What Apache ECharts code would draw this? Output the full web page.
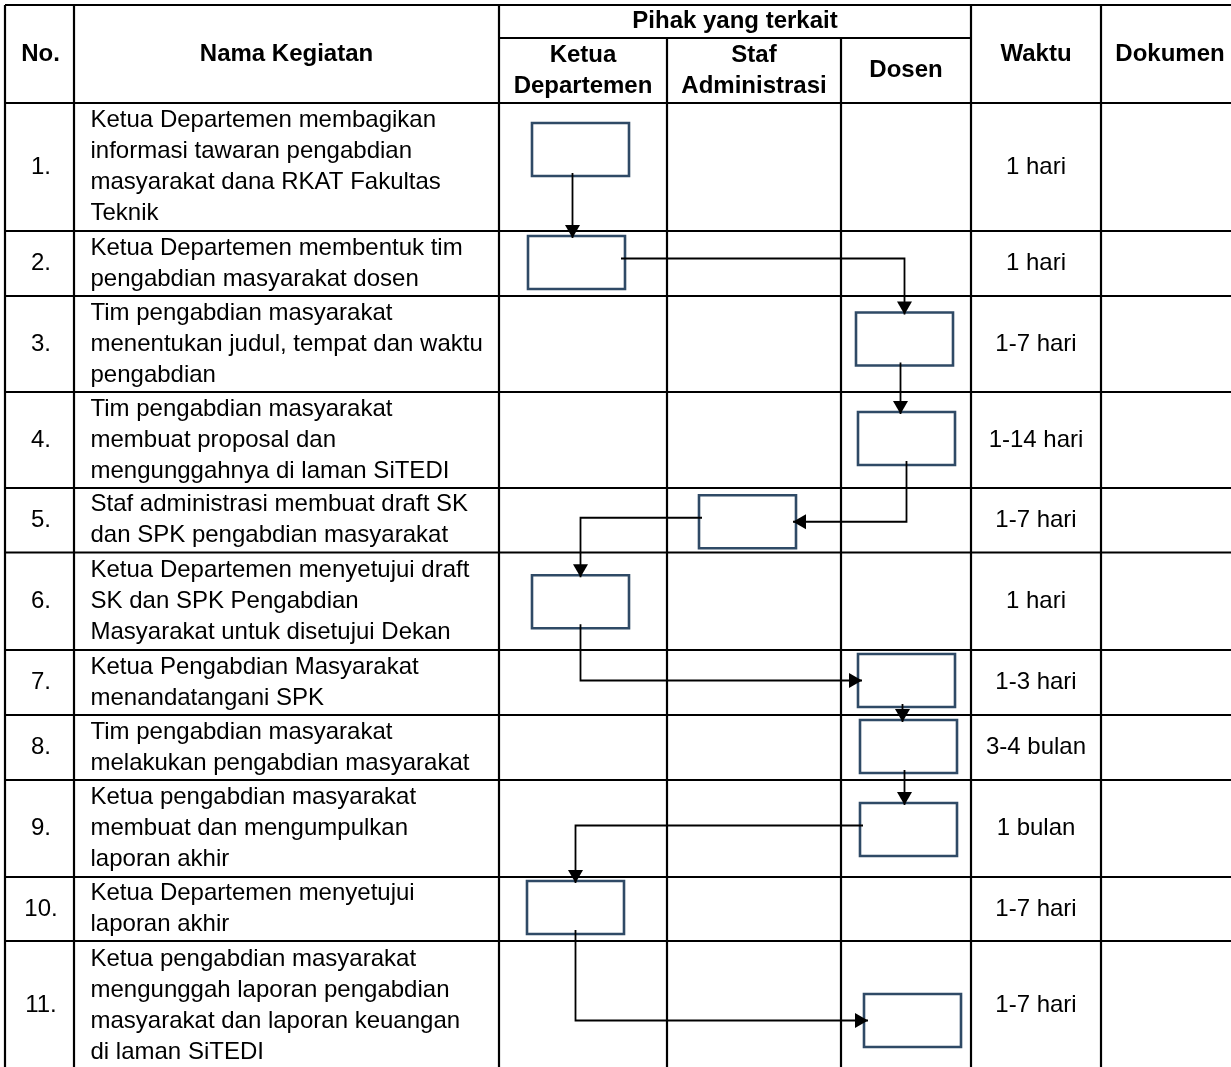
<!DOCTYPE html>
<html>
<head>
<meta charset="utf-8">
<script src="https://cdn.jsdelivr.net/npm/echarts@6/dist/echarts.min.js"></script>
<style>
  html, body { margin: 0; padding: 0; background: #fff; }
  #chart { width: 1231px; height: 1067px; }
</style>
</head>
<body>
<div id="chart"></div>
<script>
// ---------------- DATA ----------------
const HEADERS = ['No.', 'Nama Kegiatan', 'Pihak yang terkait', 'Waktu', 'Dokumen'];
const LANE_LABELS = ['Ketua\nDepartemen', 'Staf\nAdministrasi', 'Dosen'];
const STEP_NUMBERS = ['1.', '2.', '3.', '4.', '5.', '6.', '7.', '8.', '9.', '10.', '11.'];
const ACTIVITIES = [
  'Ketua Departemen membagikan\ninformasi tawaran pengabdian\nmasyarakat dana RKAT Fakultas\nTeknik',
  'Ketua Departemen membentuk tim\npengabdian masyarakat dosen',
  'Tim pengabdian masyarakat\nmenentukan judul, tempat dan waktu\npengabdian',
  'Tim pengabdian masyarakat\nmembuat proposal dan\nmengunggahnya di laman SiTEDI',
  'Staf administrasi membuat draft SK\ndan SPK pengabdian masyarakat',
  'Ketua Departemen menyetujui draft\nSK dan SPK Pengabdian\nMasyarakat untuk disetujui Dekan',
  'Ketua Pengabdian Masyarakat\nmenandatangani SPK',
  'Tim pengabdian masyarakat\nmelakukan pengabdian masyarakat',
  'Ketua pengabdian masyarakat\nmembuat dan mengumpulkan\nlaporan akhir',
  'Ketua Departemen menyetujui\nlaporan akhir',
  'Ketua pengabdian masyarakat\nmengunggah laporan pengabdian\nmasyarakat dan laporan keuangan\ndi laman SiTEDI'
];
const DURATIONS = ['1 hari', '1 hari', '1-7 hari', '1-14 hari', '1-7 hari', '1 hari', '1-3 hari', '3-4 bulan', '1 bulan', '1-7 hari', '1-7 hari'];
const DOCUMENTS = ['', '', '', '', '', '', '', '', '', '', ''];
// actor lane of each step: 0 = Ketua Departemen, 1 = Staf Administrasi, 2 = Dosen
const STEP_LANES = [0, 0, 2, 2, 1, 0, 2, 2, 2, 0, 2];
// how each step flows into the next: v = straight down, hv = across then down, vh = down then across
const FLOW_ROUTES = ['v', 'hv', 'v', 'vh', 'hv', 'vh', 'v', 'v', 'hv', 'vh'];

// ---------------- LAYOUT (positions / sizes / styles) ----------------
const LAYOUT = {
  width: 1231, height: 1067,
  cols: [5, 74, 499, 667, 841, 971, 1101, 1239],
  headTop: 5, headSplit: 38,
  rows: [103, 231, 296, 392, 488, 552.5, 650, 715, 780, 877, 941, 1070],
  box: { w: 97, h: 53 },
  boxNudge: [[-2.5, -17.5], [-6.5, -1], [-1.5, -5], [0.5, -1.5], [-6.5, 1.5], [-2.5, 0.5],
             [0.5, -2], [2.5, -1], [2.5, 1], [-7.5, -1.5], [6.5, 15]],
  textPadLeft: 16.5,
  lineHeight: 31
};
const FONT = '"Liberation Sans", Arial, sans-serif';
const FS = 24;

// ---------------- build geometry from data + layout ----------------
const C = LAYOUT.cols, R = LAYOUT.rows;
const bottom = R[R.length - 1];

// table lines
const tableSegs = [];
tableSegs.push([C[0], LAYOUT.headTop, C[7], LAYOUT.headTop]);
tableSegs.push([C[2], LAYOUT.headSplit, C[5], LAYOUT.headSplit]);
R.forEach(y => tableSegs.push([C[0], y, C[7], y]));
[0, 1, 2, 5, 6, 7].forEach(k => tableSegs.push([C[k], LAYOUT.headTop, C[k], bottom]));
[3, 4].forEach(k => tableSegs.push([C[k], LAYOUT.headSplit, C[k], bottom]));

// texts
const texts = [];
const midY0 = (LAYOUT.headTop + R[0]) / 2;
texts.push({ x: (C[0] + C[1]) / 2 + 1, y: midY0, t: HEADERS[0], b: true, a: 'center' });
texts.push({ x: (C[1] + C[2]) / 2, y: midY0, t: HEADERS[1], b: true, a: 'center' });
texts.push({ x: (C[2] + C[5]) / 2, y: (LAYOUT.headTop + LAYOUT.headSplit) / 2, t: HEADERS[2], b: true, a: 'center' });
texts.push({ x: (C[5] + C[6]) / 2, y: midY0, t: HEADERS[3], b: true, a: 'center' });
texts.push({ x: (C[6] + C[7]) / 2, y: midY0, t: HEADERS[4], b: true, a: 'center' });
LANE_LABELS.forEach((l, k) => texts.push({ x: (C[2 + k] + C[3 + k]) / 2, y: (LAYOUT.headSplit + R[0]) / 2, t: l, b: true, a: 'center' }));
ACTIVITIES.forEach((act, i) => {
  const cy = (R[i] + R[i + 1]) / 2;
  texts.push({ x: (C[0] + C[1]) / 2 + 1.5, y: cy, t: STEP_NUMBERS[i], b: false, a: 'center' });
  texts.push({ x: C[1] + LAYOUT.textPadLeft, y: cy, t: act, b: false, a: 'left' });
  texts.push({ x: (C[5] + C[6]) / 2, y: cy, t: DURATIONS[i], b: false, a: 'center' });
  if (DOCUMENTS[i]) texts.push({ x: (C[6] + C[7]) / 2, y: cy, t: DOCUMENTS[i], b: false, a: 'center' });
});

// process boxes
function boxOf(i) {
  const lane = STEP_LANES[i];
  const cx = (C[2 + lane] + C[3 + lane]) / 2 + LAYOUT.boxNudge[i][0];
  const cy = (R[i] + R[i + 1]) / 2 + LAYOUT.boxNudge[i][1];
  const w = LAYOUT.box.w, h = LAYOUT.box.h;
  return { cx, cy, x0: cx - w / 2, x1: cx + w / 2, y0: cy - h / 2, y1: cy + h / 2 };
}
const boxes = ACTIVITIES.map((_, i) => boxOf(i));

// connectors
const links = FLOW_ROUTES.map((r, i) => {
  const a = boxes[i], b = boxes[i + 1];
  const right = b.cx > a.cx;
  if (r === 'v') {
    const x = Math.min(a.cx, b.cx) - 4;
    return { pts: [[x, a.y1 - 3], [x, b.y0 + 2]], dir: 'down' };
  }
  if (r === 'hv') {
    const sx = right ? a.x1 - 4 : a.x0 + 3;
    const y = a.cy - 4;
    return { pts: [[sx, y], [b.cx, y], [b.cx, b.y0 + 2]], dir: 'down' };
  }
  const ex = right ? b.x0 + 4 : b.x1 - 3;
  return { pts: [[a.cx, a.y1 - 4], [a.cx, b.cy], [ex, b.cy]], dir: right ? 'right' : 'left' };
});

// ---------------- chart ----------------
const chart = echarts.init(document.getElementById('chart'), null, { renderer: 'canvas' });

function P(api, p) { return api.coord(p); }

chart.setOption({
  animation: false,
  backgroundColor: '#ffffff',
  grid: { left: 0, right: 0, top: 0, bottom: 0, containLabel: false },
  xAxis: { type: 'value', min: 0, max: LAYOUT.width, show: false },
  yAxis: { type: 'value', min: 0, max: LAYOUT.height, inverse: true, show: false },
  series: [
    {
      type: 'custom', name: 'table', coordinateSystem: 'cartesian2d', clip: false, silent: true,
      data: tableSegs.map((s, i) => [s[0], s[1], i]),
      renderItem: (params, api) => {
        const s = tableSegs[params.dataIndex];
        const p1 = P(api, [s[0], s[1]]), p2 = P(api, [s[2], s[3]]);
        return { type: 'line', shape: { x1: p1[0], y1: p1[1], x2: p2[0], y2: p2[1] },
                 style: { stroke: '#000', lineWidth: 2.2 } };
      }
    },
    {
      type: 'custom', name: 'boxes', coordinateSystem: 'cartesian2d', clip: false, silent: true, z: 3,
      data: boxes.map((b, i) => [b.cx, b.cy, i]),
      renderItem: (params, api) => {
        const b = boxes[params.dataIndex];
        const p0 = P(api, [b.x0, b.y0]), p1 = P(api, [b.x1, b.y1]);
        return { type: 'rect', shape: { x: p0[0], y: p0[1], width: p1[0] - p0[0], height: p1[1] - p0[1] },
                 style: { fill: '#fff', stroke: '#2F4A66', lineWidth: 2.6 } };
      }
    },
    {
      type: 'custom', name: 'flow', coordinateSystem: 'cartesian2d', clip: false, silent: true, z: 4,
      data: links.map((l, i) => [l.pts[0][0], l.pts[0][1], i]),
      renderItem: (params, api) => {
        const l = links[params.dataIndex];
        const pts = l.pts.map(p => P(api, p));
        const tip = pts[pts.length - 1];
        const L = 13, W = 7.5;
        let tri;
        if (l.dir === 'down') tri = [tip, [tip[0] - W, tip[1] - L], [tip[0] + W, tip[1] - L]];
        else if (l.dir === 'right') tri = [tip, [tip[0] - L, tip[1] - W], [tip[0] - L, tip[1] + W]];
        else tri = [tip, [tip[0] + L, tip[1] - W], [tip[0] + L, tip[1] + W]];
        return { type: 'group', children: [
          { type: 'polyline', shape: { points: pts }, style: { stroke: '#000', lineWidth: 1.8, fill: null } },
          { type: 'polygon', shape: { points: tri }, style: { fill: '#000', stroke: null } }
        ] };
      }
    },
    {
      type: 'custom', name: 'texts', coordinateSystem: 'cartesian2d', clip: false, silent: true, z: 5,
      data: texts.map((t, i) => [t.x, t.y, i]),
      renderItem: (params, api) => {
        const t = texts[params.dataIndex];
        const p = P(api, [t.x, t.y]);
        return { type: 'text', style: {
          text: t.t, x: p[0], y: p[1],
          font: (t.b ? 'bold ' : '') + FS + 'px ' + FONT,
          fill: '#000', align: t.a, verticalAlign: 'middle', lineHeight: LAYOUT.lineHeight
        } };
      }
    }
  ]
});
</script>
</body>
</html>
